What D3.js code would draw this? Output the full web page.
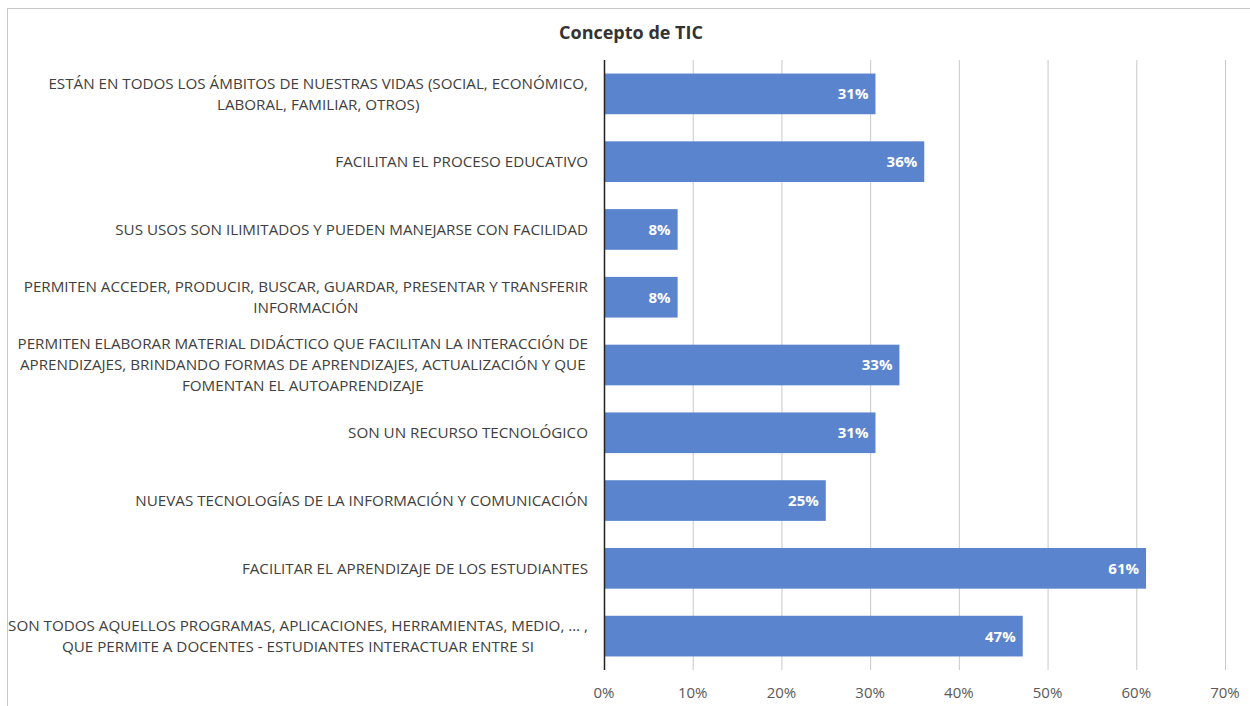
<!DOCTYPE html>
<html>
<head>
<meta charset="utf-8">
<script src="https://cdn.jsdelivr.net/npm/d3@7"></script>
<style>
  body { margin: 0; background: #fff; }
  svg { display: block; font-family: "Open Sans", "Noto Sans", sans-serif; }
</style>
</head>
<body>
<div class="chart"></div>
<script>
// categories (top to bottom), each split into its wrapped lines
const categories = [
    ["ESTÁN EN TODOS LOS ÁMBITOS DE NUESTRAS VIDAS (SOCIAL, ECONÓMICO,", "LABORAL, FAMILIAR, OTROS)"],
    ["FACILITAN EL PROCESO EDUCATIVO"],
    ["SUS USOS SON ILIMITADOS Y PUEDEN MANEJARSE CON FACILIDAD"],
    ["PERMITEN ACCEDER, PRODUCIR, BUSCAR, GUARDAR, PRESENTAR Y TRANSFERIR", "INFORMACIÓN"],
    ["PERMITEN ELABORAR MATERIAL DIDÁCTICO QUE FACILITAN LA INTERACCIÓN DE", "APRENDIZAJES, BRINDANDO FORMAS DE APRENDIZAJES, ACTUALIZACIÓN Y QUE", "FOMENTAN EL AUTOAPRENDIZAJE"],
    ["SON UN RECURSO TECNOLÓGICO"],
    ["NUEVAS TECNOLOGÍAS DE LA INFORMACIÓN Y COMUNICACIÓN"],
    ["FACILITAR EL APRENDIZAJE DE LOS ESTUDIANTES"],
    ["SON TODOS AQUELLOS PROGRAMAS, APLICACIONES, HERRAMIENTAS, MEDIO, … ,", "QUE PERMITE A DOCENTES - ESTUDIANTES INTERACTUAR ENTRE SI"]
];
// share of answers, in %
const values = [30.6, 36.1, 8.3, 8.3, 33.3, 30.6, 25.0, 61.1, 47.2];
const ticks = [0, 10, 20, 30, 40, 50, 60, 70];
const title = "Concepto de TIC";

const width = 1250;
const height = 706;
const margin = {top: 60, right: 25, bottom: 36, left: 604};

const svg = d3.select(".chart")
    .append("svg")
    .attr("width", width)
    .attr("height", height);

// outer frame, runs off the right and bottom edge like the picture
svg.append("rect")
    .attr("x", 7.5)
    .attr("y", 8.5)
    .attr("width", width)
    .attr("height", height)
    .attr("fill", "none")
    .attr("stroke", "#c8c8c8");

svg.append("text")
    .attr("x", 631)
    .attr("y", 39)
    .attr("text-anchor", "middle")
    .style("font-size", "18px")
    .style("font-weight", "bold")
    .style("fill", "#333")
    .text(title);

const x = d3.scaleLinear()
    .domain([0, 70])
    .range([margin.left, width - margin.right]);

const y = d3.scaleBand()
    .domain(d3.range(categories.length))
    .range([margin.top, height - margin.bottom])
    .paddingInner(0.4)
    .paddingOuter(0.2);

// vertical gridlines
svg.append("g")
    .selectAll("line")
    .data(ticks.slice(1))
    .enter()
    .append("line")
    .attr("x1", d => x(d) + 0.5)
    .attr("x2", d => x(d) + 0.5)
    .attr("y1", margin.top)
    .attr("y2", height - margin.bottom)
    .attr("stroke", "#c8c8c8")
    .attr("stroke-width", 1);

// tick labels
svg.append("g")
    .selectAll("text")
    .data(ticks)
    .enter()
    .append("text")
    .attr("x", d => x(d))
    .attr("y", 698)
    .attr("text-anchor", "middle")
    .style("font-size", "15px")
    .style("fill", "#595959")
    .text(d => d + "%");

// bars
svg.append("g")
    .selectAll("rect")
    .data(values)
    .enter()
    .append("rect")
    .attr("x", x(0))
    .attr("y", (d, i) => y(i))
    .attr("width", d => x(d) - x(0))
    .attr("height", y.bandwidth())
    .attr("fill", "#5b84cf");

// value labels inside the bar end
svg.append("g")
    .selectAll("text")
    .data(values)
    .enter()
    .append("text")
    .attr("x", d => x(d) - 7)
    .attr("y", (d, i) => y(i) + y.bandwidth() / 2)
    .attr("dy", "0.36em")
    .attr("text-anchor", "end")
    .style("font-size", "15px")
    .style("font-weight", "bold")
    .style("fill", "#fff")
    .text(d => Math.round(d) + "%");

// y axis line
svg.append("line")
    .attr("x1", x(0) + 0.5)
    .attr("x2", x(0) + 0.5)
    .attr("y1", margin.top)
    .attr("y2", height - margin.bottom)
    .attr("stroke", "#222")
    .attr("stroke-width", 1.5);

// category labels: lines centred inside a block whose right edge sits at 588
const lineH = 21;
const labels = svg.append("g")
    .selectAll("g")
    .data(categories)
    .enter()
    .append("g");

labels.each(function(lines, i) {
    const g = d3.select(this);
    const cy = y(i) + y.bandwidth() / 2;
    const texts = lines.map((line, j) => g.append("text")
        .attr("y", cy + (j - (lines.length - 1) / 2) * lineH)
        .attr("dy", "0.35em")
        .attr("text-anchor", "middle")
        .style("font-size", "15.2px")
        .style("fill", "#404040")
        .text(line));
    const maxW = d3.max(texts, t => t.node().getComputedTextLength());
    texts.forEach(t => t.attr("x", 588 - maxW / 2));
});
</script>
</body>
</html>
